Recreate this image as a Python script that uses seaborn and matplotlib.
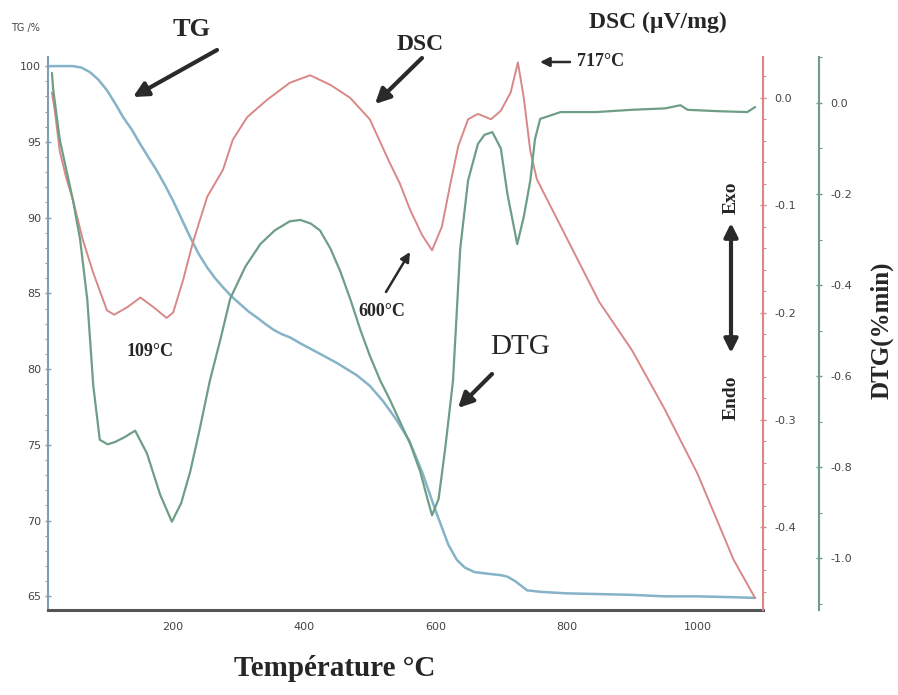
import numpy as np
import pandas as pd
import matplotlib
matplotlib.use("Agg")
import matplotlib.pyplot as plt
import seaborn as sns
from matplotlib.ticker import MultipleLocator

# ---------------- data ----------------
tg_temp = [12, 30, 47, 60, 73, 86, 99, 112, 124, 137, 149, 162, 175, 188, 200, 213, 226, 239,
           252, 264, 276, 289, 302, 315, 328, 340, 353, 366, 378, 394, 420, 450, 480, 500,
           520, 540, 560, 580, 600, 620, 633, 645, 660, 679, 700, 710, 722, 740, 760, 800,
           850, 900, 950, 1000, 1050, 1088]
tg_mass = [100.0, 100.0, 100.0, 99.9, 99.6, 99.1, 98.4, 97.5, 96.6, 95.8, 94.9, 94.0, 93.1,
           92.1, 91.1, 89.9, 88.7, 87.6, 86.7, 86.0, 85.4, 84.8, 84.3, 83.8, 83.4, 83.0, 82.6,
           82.3, 82.1, 81.7, 81.1, 80.4, 79.6, 78.9, 77.9, 76.7, 75.3, 73.2, 70.7, 68.4, 67.4,
           66.9, 66.6, 66.5, 66.4, 66.3, 66.0, 65.4, 65.3, 65.2, 65.15, 65.1, 65.0, 65.0, 64.95, 64.9]

dsc_temp = [15, 20, 27, 37, 47, 62, 78, 99, 110, 130, 150, 170, 190, 200, 215, 230, 252, 276,
            291, 313, 343, 378, 409, 440, 470, 500, 530, 546, 562, 580, 595, 610, 623, 635,
            650, 665, 685, 700, 715, 726, 735, 745, 755, 800, 850, 900, 950, 1000, 1055, 1088]
dsc_signal = [0.005, -0.015, -0.05, -0.075, -0.095, -0.132, -0.163, -0.198, -0.202, -0.195,
              -0.186, -0.195, -0.205, -0.200, -0.170, -0.135, -0.092, -0.067, -0.039, -0.018,
              -0.002, 0.014, 0.021, 0.012, 0.000, -0.020, -0.060, -0.080, -0.105, -0.128,
              -0.142, -0.120, -0.080, -0.045, -0.020, -0.015, -0.020, -0.012, 0.005, 0.033,
              0.000, -0.050, -0.076, -0.130, -0.190, -0.235, -0.290, -0.350, -0.430, -0.466]

dtg_temp = [15, 17, 27, 47, 58, 69, 78, 88, 100, 111, 125, 142, 160, 180, 198, 212, 226, 240,
            256, 272, 287, 310, 333, 355, 378, 394, 410, 424, 440, 455, 470, 486, 500, 516,
            530, 546, 562, 577, 588, 595, 605, 615, 627, 638, 650, 665, 675, 687, 700, 710,
            725, 735, 745, 752, 760, 791, 845, 900, 950, 974, 985, 1030, 1076, 1088]
dtg_rate = [0.066, 0.029, -0.081, -0.213, -0.300, -0.433, -0.620, -0.740, -0.750, -0.745,
            -0.735, -0.720, -0.770, -0.860, -0.920, -0.880, -0.810, -0.720, -0.610, -0.520,
            -0.430, -0.360, -0.310, -0.280, -0.260, -0.257, -0.265, -0.280, -0.320, -0.370,
            -0.430, -0.500, -0.555, -0.610, -0.650, -0.700, -0.750, -0.810, -0.870, -0.906,
            -0.870, -0.760, -0.610, -0.320, -0.170, -0.090, -0.070, -0.064, -0.100, -0.200,
            -0.310, -0.250, -0.170, -0.080, -0.035, -0.020, -0.020, -0.015, -0.012, -0.005,
            -0.015, -0.018, -0.020, -0.009]

x_ticks = [200, 400, 600, 800, 1000]
tg_ticks = [65, 70, 75, 80, 85, 90, 95, 100]
dsc_ticks = [0.0, -0.1, -0.2, -0.3, -0.4]
dtg_ticks = [0.0, -0.2, -0.4, -0.6, -0.8, -1.0]

tg_df = pd.DataFrame({"T": tg_temp, "TG": tg_mass})
dsc_df = pd.DataFrame({"T": dsc_temp, "DSC": dsc_signal})
dtg_df = pd.DataFrame({"T": dtg_temp, "DTG": dtg_rate})

# ---------------- style ----------------
sns.set_style("white")
plt.rcParams['font.family'] = ['DejaVu Sans']

W, H = 898, 695
fig = plt.figure(figsize=(W / 100, H / 100), dpi=100)


def P(x, y):
    return (x / W, 1 - y / H)


left, right, top, bottom = 48, 763, 57, 610
ax = fig.add_axes([left / W, 1 - bottom / H, (right - left) / W, (bottom - top) / H])
ax2 = ax.twinx()
ax3 = ax.twinx()

c_tg = "#86b3c8"
c_dsc = "#d98888"
c_dtg = "#6e9e86"

sns.lineplot(data=tg_df, x="T", y="TG", ax=ax, color=c_tg, linewidth=1.8)
sns.lineplot(data=dsc_df, x="T", y="DSC", ax=ax2, color=c_dsc, linewidth=1.4)
sns.lineplot(data=dtg_df, x="T", y="DTG", ax=ax3, color=c_dtg, linewidth=1.6)

ax.set_xlim(9, 1100)
ax.set_ylim(64.1, 100.6)
ax2.set_ylim(-0.477, 0.038)
ax3.set_ylim(-1.114, 0.101)

for a in (ax, ax2, ax3):
    a.set_xlabel("")
    a.set_ylabel("")
    for s in a.spines.values():
        s.set_visible(False)

ax.spines['left'].set_visible(True)
ax.spines['left'].set_color("#7f9fb8")
ax.spines['left'].set_linewidth(1.5)
ax.spines['bottom'].set_visible(True)
ax.spines['bottom'].set_color("#555555")
ax.spines['bottom'].set_linewidth(2.2)
ax2.spines['right'].set_visible(True)
ax2.spines['right'].set_color(c_dsc)
ax2.spines['right'].set_linewidth(1.5)
ax3.spines['right'].set_visible(True)
ax3.spines['right'].set_position(('axes', (819 - left) / (right - left)))
ax3.spines['right'].set_color(c_dtg)
ax3.spines['right'].set_linewidth(1.5)

tick_kw = dict(labelsize=8, labelcolor="#444444", direction="inout")
ax.set_xticks(x_ticks)
ax.xaxis.set_minor_locator(MultipleLocator(100))
ax.set_yticks(tg_ticks)
ax.yaxis.set_minor_locator(MultipleLocator(1))
ax.tick_params(axis='x', which='major', length=4, width=1.2, color="#555555", pad=7, **tick_kw)
ax.tick_params(axis='x', which='minor', length=3, width=1, color="#555555")
ax.tick_params(axis='y', which='major', length=4, width=1, color="#7f9fb8", pad=3, left=True, **tick_kw)
ax.tick_params(axis='y', which='minor', length=2, width=0.8, color="#7f9fb8", left=True)

ax2.set_yticks(dsc_ticks)
ax2.set_yticklabels([f"{v:.1f}" for v in dsc_ticks])
ax2.yaxis.set_minor_locator(MultipleLocator(0.02))
ax2.tick_params(axis='y', which='major', length=4, width=1, color=c_dsc, pad=6, right=True, **tick_kw)
ax2.tick_params(axis='y', which='minor', length=2, width=0.8, color=c_dsc, right=True)

ax3.set_yticks(dtg_ticks)
ax3.set_yticklabels([f"{v:.1f}" for v in dtg_ticks])
ax3.yaxis.set_minor_locator(MultipleLocator(0.1))
ax3.tick_params(axis='y', which='major', length=4, width=1, color=c_dtg, pad=6, right=True, **tick_kw)
ax3.tick_params(axis='y', which='minor', length=2, width=0.8, color=c_dtg, right=True)

for a in (ax, ax2, ax3):
    a.grid(False)
    a.patch.set_visible(False)

serif = ['Liberation Serif', 'DejaVu Serif']

# ---------------- annotations ----------------
fig.text(*P(25, 28), "TG /%", fontsize=7, color="#444444", ha="center", va="center")
fig.text(*P(192, 30), "TG", fontsize=19, fontweight="bold", family=serif, ha="center", va="center")
fig.text(*P(420, 45), "DSC", fontsize=17, fontweight="bold", family=serif, ha="center", va="center")
fig.text(*P(658, 22), "DSC (µV/mg)", fontsize=17, fontweight="bold", family=serif, ha="center", va="center")
fig.text(*P(577, 62), "717°C", fontsize=13, fontweight="bold", family=serif, ha="left", va="center")
fig.text(*P(150, 352), "109°C", fontsize=13, fontweight="bold", family=serif, ha="center", va="center")
fig.text(*P(382, 312), "600°C", fontsize=13, fontweight="bold", family=serif, ha="center", va="center")
fig.text(*P(520, 347), "DTG", fontsize=21, family=serif, ha="center", va="center")
fig.text(*P(731, 198), "Exo", fontsize=14, fontweight="bold", family=serif, rotation=90, ha="center", va="center")
fig.text(*P(731, 398), "Endo", fontsize=14, fontweight="bold", family=serif, rotation=90, ha="center", va="center")
fig.text(*P(882, 330), "DTG(%min)", fontsize=18, fontweight="bold", family=serif, rotation=90, ha="center", va="center")
fig.text(*P(335, 668), "Température °C", fontsize=21, fontweight="bold", family=serif, ha="center", va="center")

arrow_big = dict(arrowstyle="-|>", lw=3, color="#2a2a2a", mutation_scale=22, shrinkA=0, shrinkB=0)
arrow_small = dict(arrowstyle="-|>", lw=1.8, color="#2a2a2a", mutation_scale=14, shrinkA=0, shrinkB=0)
fig_ann = dict(xycoords="figure fraction", textcoords="figure fraction")
ax.annotate("", xy=P(133, 97), xytext=P(217, 50), arrowprops=arrow_big, **fig_ann)
ax.annotate("", xy=P(375, 104), xytext=P(422, 58), arrowprops=arrow_big, **fig_ann)
ax.annotate("", xy=P(410, 252), xytext=P(386, 292), arrowprops=arrow_small, **fig_ann)
ax.annotate("", xy=P(458, 408), xytext=P(492, 374), arrowprops=arrow_big, **fig_ann)
ax.annotate("", xy=P(540, 62), xytext=P(570, 62), arrowprops=arrow_small, **fig_ann)
ax.annotate("", xy=P(731, 353), xytext=P(731, 223),
            arrowprops=dict(arrowstyle="<|-|>", lw=3, color="#2a2a2a", mutation_scale=20,
                            shrinkA=0, shrinkB=0), **fig_ann)

fig.savefig("out.png", dpi=100)
